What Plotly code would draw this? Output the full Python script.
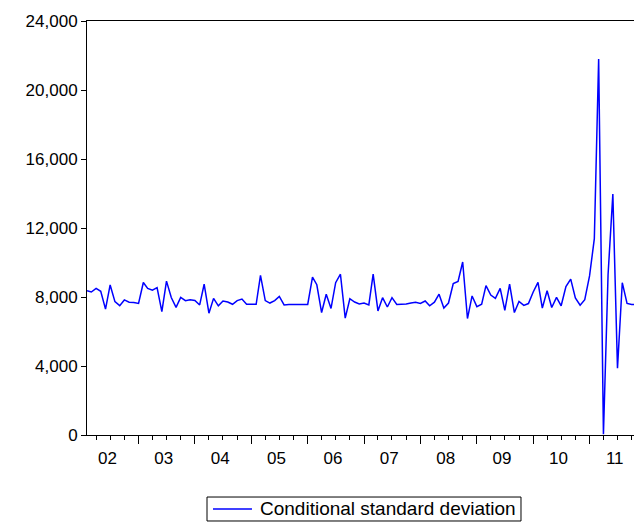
import pandas as pd
import plotly.graph_objects as go

# Monthly conditional standard deviation, 2002M02 .. 2011M11
start_month = "2002-02-01"
cond_sd = [
    8360, 8290, 8500, 8330, 7300, 8700, 7730, 7500, 7830, 7700, 7680,          # 2002 Feb-Dec
    7630, 8840, 8500, 8400, 8540, 7150, 8920, 7970, 7400, 7980, 7790, 7840,    # 2003
    7800, 7540, 8740, 7060, 7920, 7490, 7770, 7710, 7580, 7790, 7880, 7580,    # 2004
    7560, 7580, 9250, 7790, 7650, 7790, 8030, 7540, 7570, 7570, 7590, 7570,    # 2005
    7570, 9150, 8710, 7100, 8160, 7340, 8830, 9320, 6780, 7900, 7710, 7600,    # 2006
    7650, 7540, 9330, 7190, 7960, 7420, 7960, 7570, 7570, 7590, 7650, 7690,    # 2007
    7630, 7770, 7490, 7700, 8160, 7360, 7650, 8780, 8900, 10030, 6750, 8060,   # 2008
    7440, 7580, 8660, 8110, 7920, 8500, 7230, 8750, 7100, 7740, 7510, 7620,    # 2009
    8290, 8850, 7360, 8360, 7390, 7980, 7490, 8600, 9040, 7950, 7520, 7840,    # 2010
    9220, 11380, 21800, 40, 9300, 13970, 3870, 8830, 7630, 7560, 7560,         # 2011 Jan-Nov
]
series_name = "Conditional standard deviation"
y_ticks = [0, 4000, 8000, 12000, 16000, 20000, 24000]

dates = pd.date_range(start_month, periods=len(cond_sd), freq="MS")

FONT = "Liberation Sans, Arial, sans-serif"
LINE_COLOR = "#0000FF"

fig = go.Figure()
fig.add_trace(go.Scatter(
    x=dates, y=cond_sd, mode="lines", name=series_name,
    line=dict(color=LINE_COLOR, width=1.5), showlegend=False,
))

fig.update_layout(
    width=634, height=525,
    margin=dict(l=87, r=0, t=21, b=90, autoexpand=False),
    paper_bgcolor="white", plot_bgcolor="white",
    font=dict(family=FONT, size=17, color="black"),
    showlegend=False,
)

# Legend box drawn below the plot (EViews style)
fig.add_shape(type="rect", xref="paper", yref="paper",
              x0=0.2194, x1=0.7934, y0=-0.2077, y1=-0.1498,
              line=dict(color="black", width=1), fillcolor="white")
fig.add_shape(type="line", xref="paper", yref="paper",
              x0=0.2303, x1=0.3016, y0=-0.1787, y1=-0.1787,
              line=dict(color=LINE_COLOR, width=1.5))
fig.add_annotation(xref="paper", yref="paper", x=0.3126, y=-0.1787,
                   xanchor="left", yanchor="middle", showarrow=False,
                   text=series_name,
                   font=dict(family=FONT, size=19, color="black"))

fig.update_xaxes(
    type="date",
    range=[start_month, "2011-10-16"],
    automargin=False,
    showgrid=False, zeroline=False,
    showline=True, linecolor="black", linewidth=1, mirror=True,
    tick0="2002-01-01", dtick="M12", tickformat="%y",
    ticklabelmode="period", ticklabelshift=-3,
    ticks="outside", ticklen=8, tickcolor="black", tickwidth=1,
    minor=dict(dtick="M3", tick0="2002-01-01", ticks="outside", ticklen=4,
               tickcolor="black", tickwidth=1, showgrid=False),
    tickfont=dict(family=FONT, size=17, color="black"),
)

fig.update_yaxes(
    range=[0, 24000],
    automargin=False,
    tickvals=y_ticks, tickformat=",",
    showgrid=False, zeroline=False,
    showline=True, linecolor="black", linewidth=1, mirror=False,
    ticks="outside", ticklen=5, tickcolor="black", tickwidth=1,
    tickfont=dict(family=FONT, size=17, color="black"),
)

fig.write_html(
    "out.html",
    config={"displayModeBar": False},
    post_script="document.body.style.margin='0';document.body.style.overflow='hidden';",
)
